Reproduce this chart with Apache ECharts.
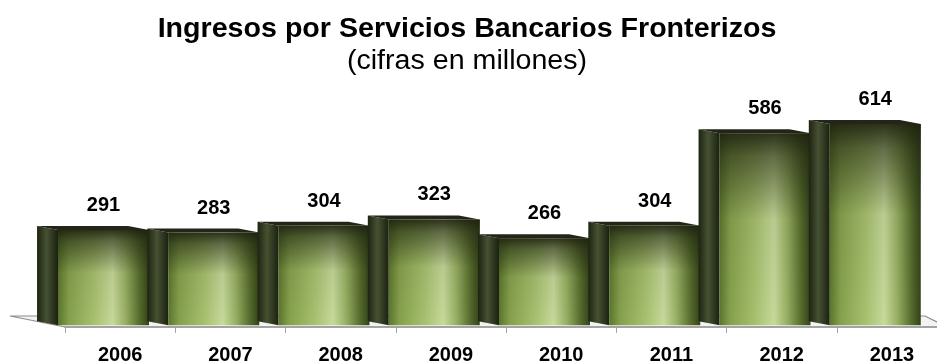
<!DOCTYPE html>
<html>
<head>
<meta charset="utf-8">
<script src="https://cdn.jsdelivr.net/npm/echarts@6/dist/echarts.min.js"></script>
<style>html,body{margin:0;padding:0;background:#fff;}#c{width:937px;height:362px;}</style>
</head>
<body>
<div id="c"></div>
<script>
const years = ['2006','2007','2008','2009','2010','2011','2012','2013'];
const ingresos = [291, 283, 304, 323, 266, 304, 586, 614];
const titleText = 'Ingresos por Servicios Bancarios Fronterizos';
const subtitleText = '(cifras en millones)';

const chart = echarts.init(document.getElementById('c'));
const LG = echarts.graphic.LinearGradient;

function renderBar(params, api) {
  const idx = api.value(0);
  const v = api.value(1);
  const band = api.size([1, 0])[0];
  const topPt = api.coord([idx, v]);
  const zeroPt = api.coord([idx, 0]);
  const s = topPt[0] - band / 2;
  const x0 = s - band * 0.0635;
  const x1 = s + band * 0.762;
  const yT = topPt[1];
  const yB = zeroPt[1];
  const dx = -band * 0.19, dy = -4;
  const frontFill = new LG(0, 0, 1, 0, [
    {offset: 0, color: '#5c752e'},
    {offset: 0.12, color: '#86a14d'},
    {offset: 0.4, color: '#a8c170'},
    {offset: 0.6, color: '#c7da9b'},
    {offset: 0.74, color: '#98b064'},
    {offset: 0.9, color: '#556a2b'},
    {offset: 1, color: '#33421a'}
  ]);
  const shade = new LG(0, 0, 0, 1, [
    {offset: 0, color: 'rgba(28,32,14,0.9)'},
    {offset: 0.12, color: 'rgba(30,36,15,0.6)'},
    {offset: 0.45, color: 'rgba(30,36,15,0.08)'},
    {offset: 1, color: 'rgba(30,36,15,0)'}
  ]);
  const sideFill = new LG(0, 0, 1, 0, [
    {offset: 0, color: '#1d2411'},
    {offset: 0.45, color: '#465132'},
    {offset: 1, color: '#1a2110'}
  ]);
  return {
    type: 'group',
    children: [
      {type: 'polygon', shape: {points: [[x0, yT], [x0, yB], [x0 + dx, yB + dy], [x0 + dx, yT + dy]]},
       style: {fill: sideFill}},
      {type: 'polygon', shape: {points: [[x0, yT], [x1, yT], [x1 + dx, yT + dy], [x0 + dx, yT + dy]]},
       style: {fill: '#24251a'}},
      {type: 'rect', shape: {x: x0, y: yT, width: x1 - x0, height: yB - yT}, style: {fill: frontFill}},
      {type: 'rect', shape: {x: x0, y: yT, width: x1 - x0, height: yB - yT}, style: {fill: shade}},
      {type: 'text', x: (x0 + x1) / 2, y: yT - 24.5,
       style: {text: String(v), fill: '#000', font: 'bold 20px "Liberation Sans", Arial, sans-serif',
               align: 'center', verticalAlign: 'middle'}}
    ]
  };
}

chart.setOption({
  animation: false,
  backgroundColor: '#ffffff',
  graphic: [
    {type: 'polygon', z: 0, shape: {points: [[10, 316], [925, 316], [947, 327], [65, 327]]},
     style: {fill: '#f3f3f3', stroke: '#8e8e8e', lineWidth: 1.2}},
    {type: 'text', z: 10, x: 467, y: 30, scaleX: 1.06,
     style: {text: titleText, fill: '#000', font: 'bold 27px "Liberation Sans", Arial, sans-serif',
             align: 'center', verticalAlign: 'middle'}},
    {type: 'text', z: 10, x: 467, y: 62, scaleX: 1.06,
     style: {text: subtitleText, fill: '#000', font: '27px "Liberation Sans", Arial, sans-serif',
             align: 'center', verticalAlign: 'middle'}}
  ],
  grid: {left: 65, top: 95.8, width: 882, bottom: 35, containLabel: false, outerBoundsMode: 'none'},
  xAxis: {
    type: 'category',
    data: years,
    boundaryGap: true,
    axisLine: {show: true, onZero: false, lineStyle: {color: '#a3a3a3', width: 2}},
    axisTick: {show: true, length: 6, lineStyle: {color: '#a3a3a3', width: 1}},
    axisLabel: {color: '#000', fontSize: 20, fontWeight: 'bold', fontFamily: '"Liberation Sans", Arial, sans-serif', margin: 18},
    splitLine: {show: false}
  },
  yAxis: {
    type: 'value', min: -5, max: 700, show: false, splitLine: {show: false}
  },
  series: [{
    type: 'custom',
    renderItem: renderBar,
    data: ingresos.map((v, i) => [i, v]),
    encode: {x: 0, y: 1},
    z: 5
  }]
});
</script>
</body>
</html>
